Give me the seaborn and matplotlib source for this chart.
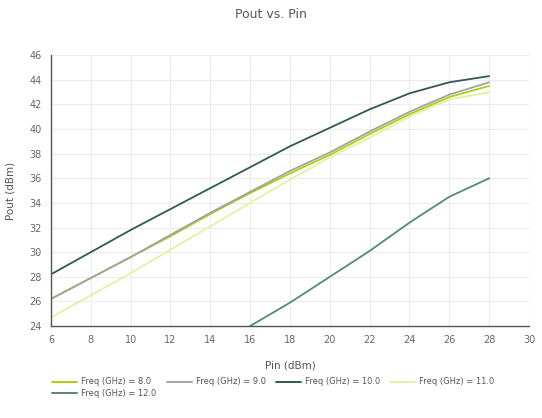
import pandas as pd
import numpy as np
import matplotlib
matplotlib.use("Agg")
import matplotlib.pyplot as plt
import seaborn as sns

# Data
pin = [6, 8, 10, 12, 14, 16, 18, 20, 22, 24, 26, 28]
pout_8 = [26.2, 27.9, 29.6, 31.3, 33.1, 34.8, 36.4, 37.9, 39.6, 41.2, 42.6, 43.5]
pout_9 = [26.2, 27.9, 29.6, 31.4, 33.2, 34.9, 36.6, 38.1, 39.8, 41.4, 42.8, 43.8]
pout_10 = [28.2, 30.0, 31.8, 33.5, 35.2, 36.9, 38.6, 40.1, 41.6, 42.9, 43.8, 44.3]
pout_11 = [24.7, 26.5, 28.3, 30.2, 32.1, 34.0, 35.9, 37.7, 39.3, 41.0, 42.4, 43.0]
pin_12 = [16, 18, 20, 22, 24, 26, 28]
pout_12 = [24.0, 25.9, 28.0, 30.1, 32.4, 34.5, 36.0]

labels = ["Freq (GHz) = 8.0", "Freq (GHz) = 9.0", "Freq (GHz) = 10.0",
          "Freq (GHz) = 11.0", "Freq (GHz) = 12.0"]
colors = ["#a6d20e", "#a3a3a3", "#2f5a55", "#e3f1a6", "#4f8a7c"]

frames = []
for lab, xs, ys in zip(labels, [pin, pin, pin, pin, pin_12],
                       [pout_8, pout_9, pout_10, pout_11, pout_12]):
    frames.append(pd.DataFrame({"Pin": xs, "Pout": ys, "series": lab}))
df = pd.concat(frames, ignore_index=True)

sns.set_style("white")
plt.rcParams['font.family'] = ['DejaVu Sans']

fig = plt.figure(figsize=(5.42, 4.18), dpi=100)
ax = fig.add_axes([0.094, 0.22, 0.882, 0.648])

sns.lineplot(data=df, x="Pin", y="Pout", hue="series", hue_order=labels,
             palette=colors, linewidth=1.3, ax=ax, legend=False)

ax.set_xlim(6, 30)
ax.set_ylim(24, 46)
ax.set_xticks(np.arange(6, 31, 2))
ax.set_yticks(np.arange(24, 47, 2))
ax.grid(True, color="#ececec", linewidth=0.8)
ax.set_axisbelow(True)
for side in ["top", "right"]:
    ax.spines[side].set_visible(False)
for side in ["left", "bottom"]:
    ax.spines[side].set_color("#555555")
    ax.spines[side].set_linewidth(1.0)
ax.tick_params(axis="both", labelsize=7, colors="#666666", length=3, width=0.8)
ax.tick_params(axis="both", color="#555555")

ax.set_xlabel("Pin (dBm)", fontsize=7.5, color="#555555", labelpad=11)
ax.set_ylabel("Pout (dBm)", fontsize=7.5, color="#555555", labelpad=10)
fig.suptitle("Pout vs. Pin", fontsize=9, color="#555555", y=0.982)

# legend filled row-wise: 8, 9, 10, 11 on first row, 12 below
order = [0, 4, 1, 2, 3]
handles = [plt.Line2D([], [], color=colors[i], linewidth=1.4) for i in order]
fig.legend(handles, [labels[i] for i in order], loc="upper left",
           bbox_to_anchor=(0.09, 0.105),
           ncol=4, frameon=False, fontsize=6, labelcolor="#555555",
           handlelength=3.0, handletextpad=0.5, columnspacing=1.2,
           borderaxespad=0, labelspacing=0.3)

fig.savefig("out.png", dpi=100)
